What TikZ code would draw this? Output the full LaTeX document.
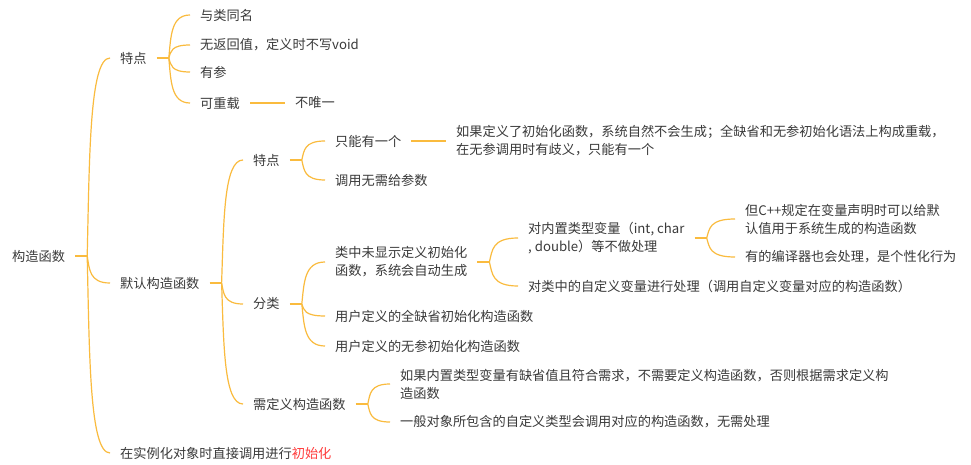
\documentclass[tikz,border=0pt]{standalone}
\usepackage{fontspec}
\setmainfont{Noto Sans CJK SC}
\usetikzlibrary{calc}
\definecolor{ln}{RGB}{250,187,62}
\definecolor{tx}{RGB}{58,58,58}
\definecolor{hl}{RGB}{255,59,59}
\newcommand\cv[2]{\draw[curve] let \p1=(#1), \p2=(#2.west) in (\p1) .. controls ({\x1+0.1*(\x2-\x1)},{\y1+0.5*(\y2-\y1)}) and ({\x1+0.1*(\x2-\x1)},\y2) .. (\p2);}
\newcommand\stb[1]{\draw[stubline] (#1.east) -- ++(12,0) coordinate (#1s);}
\tikzset{
  t/.style={anchor=west, inner xsep=10pt, inner ysep=2pt, text=tx, align=left,
    font={\fontsize{13.2}{18}\selectfont}},
  stubline/.style={draw=ln, line width=2pt},
  curve/.style={draw=ln, line width=1.2pt},
}
\begin{document}
\begin{tikzpicture}[x=1pt,y=-1pt]
\useasboundingbox (0,0) rectangle (971,465);
\fill[white] (0,0) rectangle (971,465);
% nodes
\node[t] (r) at (2,256) {构造函数};
\node[t] (a1) at (110,58) {特点};
\node[t] (a2) at (110,283) {默认构造函数};
\node[t] (a3) at (110,453) {在实例化对象时直接调用进行\textcolor{hl}{初始化}};
\node[t] (b1) at (190,15) {与类同名};
\node[t] (b2) at (190,45) {无返回值，定义时不写void};
\node[t] (b3) at (190,72) {有参};
\node[t] (b4) at (190,103) {可重载};
\node[t] (b5) at (285,103) {不唯一};
\node[t] (c1) at (243,160) {特点};
\node[t] (c2) at (243,304) {分类};
\node[t] (c3) at (243,404) {需定义构造函数};
\node[t] (d1) at (325,141) {只能有一个};
\node[t] (d2) at (325,180) {调用无需给参数};
\node[t] (d3) at (446,141) {如果定义了初始化函数，系统自然不会生成；全缺省和无参初始化语法上构成重载，\\在无参调用时有歧义，只能有一个};
\node[t] (e1) at (325,262) {类中未显示定义初始化\\函数，系统会自动生成};
\node[t] (e2) at (325,316) {用户定义的全缺省初始化构造函数};
\node[t] (e3) at (325,346) {用户定义的无参初始化构造函数};
\node[t] (f1) at (518,238) {对内置类型变量（int, char\\, double）等不做处理};
\node[t] (f2) at (518,286) {对类中的自定义变量进行处理（调用自定义变量对应的构造函数）};
\node[t] (g1) at (735,219) {但C++规定在变量声明时可以给默\\认值用于系统生成的构造函数};
\node[t] (g2) at (735,257) {有的编译器也会处理，是个性化行为};
\node[t] (h1) at (390,384) {如果内置类型变量有缺省值且符合需求，不需要定义构造函数，否则根据需求定义构\\造函数};
\node[t] (h2) at (390,422) {一般对象所包含的自定义类型会调用对应的构造函数，无需处理};
% connectors
\stb{r} \cv{rs}{a1} \cv{rs}{a2} \cv{rs}{a3}
\stb{a1} \cv{a1s}{b1} \cv{a1s}{b2} \cv{a1s}{b3} \cv{a1s}{b4}
\draw[stubline] (b4.east) -- (b5.west);
\stb{a2} \cv{a2s}{c1} \cv{a2s}{c2} \cv{a2s}{c3}
\stb{c1} \cv{c1s}{d1} \cv{c1s}{d2}
\draw[stubline] (d1.east) -- (d3.west);
\stb{c2} \cv{c2s}{e1} \cv{c2s}{e2} \cv{c2s}{e3}
\stb{e1} \cv{e1s}{f1} \cv{e1s}{f2}
\stb{f1} \cv{f1s}{g1} \cv{f1s}{g2}
\stb{c3} \cv{c3s}{h1} \cv{c3s}{h2}
\end{tikzpicture}
\end{document}
